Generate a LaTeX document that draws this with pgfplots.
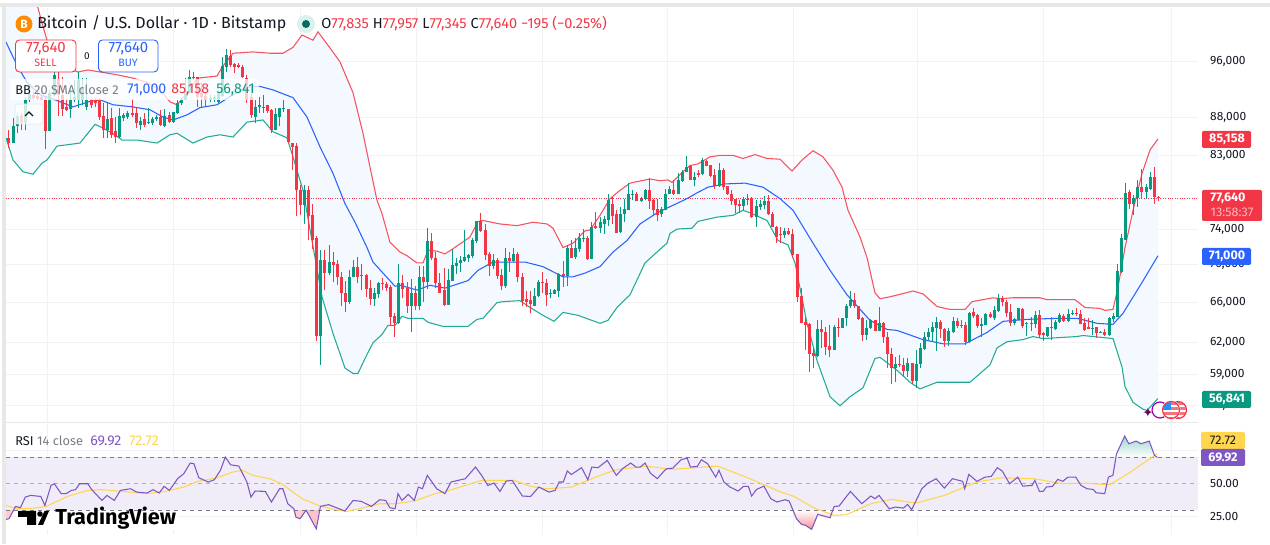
\documentclass[border=0pt]{standalone}
\usepackage{fontspec}
\usepackage{pgfplots}
\usepackage{pgfplotstable}
\pgfplotsset{compat=1.18}
\usepgfplotslibrary{fillbetween}
\setmainfont{Fira Sans}
\newfontfamily\djv{DejaVu Sans}
\definecolor{tvred}{HTML}{F23645}
\definecolor{tvgreen}{HTML}{089981}
\definecolor{tvblue}{HTML}{2962FF}
\definecolor{bbred}{HTML}{F7525F}
\definecolor{bbgreen}{HTML}{22AB94}
\definecolor{bbfill}{HTML}{F4F8FF}
\definecolor{gridc}{HTML}{F1F2F4}
\definecolor{rsip}{HTML}{7E57C2}
\definecolor{rsibg}{HTML}{F0ECF8}
\definecolor{rsiy}{HTML}{FFD64D}
\definecolor{sepc}{HTML}{E8E8E8}
\definecolor{dashc}{HTML}{787B86}
\definecolor{txt}{HTML}{131722}
\pgfplotstableread{
o h l c
85.8 86.6 85.0 85.3
85.3 86.3 84.0 84.6
84.6 88.0 84.6 86.9
86.9 88.7 85.9 88.3
88.4 88.7 86.3 87.3
87.3 90.9 86.3 90.5
90.4 92.6 90.2 91.3
91.2 91.6 90.5 90.8
91.0 91.9 90.5 90.6
90.9 92.2 90.4 90.5
90.5 90.9 83.8 86.2
86.2 91.9 86.2 91.5
91.2 94.5 91.1 94.1
93.5 94.5 88.3 91.2
91.2 93.7 88.3 89.2
89.5 90.5 89.0 89.1
89.2 92.3 88.0 90.4
90.4 93.3 90.2 90.9
90.5 94.5 89.4 93.3
90.5 93.6 89.7 92.2
89.5 93.6 89.1 90.5
90.4 90.6 89.4 89.7
90.4 90.8 89.5 90.0
90.5 90.8 87.7 88.1
88.2 90.1 85.3 86.4
86.4 90.1 85.3 87.8
88.0 89.4 85.3 85.7
86.2 88.1 84.6 85.4
85.4 89.4 85.3 88.3
88.0 88.7 87.5 88.4
88.1 89.0 87.8 88.7
88.7 90.6 88.1 88.4
88.7 89.5 86.6 87.3
87.0 88.1 86.4 87.6
87.8 88.7 86.7 87.0
87.3 89.4 87.1 87.4
87.3 88.1 87.0 87.8
87.8 88.4 87.6 88.1
88.1 89.1 86.9 87.0
86.9 89.2 86.7 88.3
88.4 88.8 87.3 87.4
87.4 88.8 87.3 88.8
88.7 90.5 88.5 90.1
90.1 90.8 89.8 90.5
90.5 93.6 90.5 91.6
91.5 94.8 91.5 93.8
93.7 94.5 93.3 93.8
93.8 93.8 89.5 90.9
91.5 93.0 89.4 90.9
91.0 91.5 89.5 90.5
90.5 91.2 90.2 90.8
90.6 91.2 90.2 90.9
90.2 91.9 90.1 91.3
91.0 96.7 90.9 95.4
95.2 98.0 94.5 97.0
96.9 97.8 95.2 95.5
95.7 95.9 94.4 95.2
95.5 95.9 95.1 95.2
95.2 95.5 93.6 93.7
93.6 94.1 90.1 90.5
90.9 92.3 88.0 88.4
88.1 90.5 87.3 89.5
89.5 90.9 88.7 89.7
89.4 91.2 88.7 89.5
89.7 89.8 88.7 89.0
89.1 89.2 86.0 86.3
86.4 89.4 86.3 88.5
88.1 89.4 86.9 89.4
89.2 90.5 88.8 89.4
89.2 89.2 84.6 84.7
84.6 84.6 81.1 84.1
84.2 84.6 75.5 78.6
78.6 79.3 75.6 76.8
76.8 79.3 74.6 78.6
78.6 79.1 72.8 75.5
75.6 76.9 71.7 72.8
73.0 73.2 62.2 62.7
62.7 71.6 59.9 70.5
70.5 71.6 67.3 69.1
69.1 72.2 68.9 70.3
70.3 71.4 68.1 70.0
70.1 70.5 67.8 68.7
68.7 69.2 65.7 67.0
67.0 68.3 65.0 66.1
66.1 69.4 65.9 68.7
68.7 70.5 68.7 69.8
69.8 70.9 68.0 68.7
68.8 70.1 67.3 68.9
68.9 69.0 66.6 67.4
67.5 68.4 65.8 66.4
66.4 67.5 65.6 67.0
66.9 68.2 66.5 68.0
68.0 68.6 67.3 67.9
67.9 68.2 67.2 67.5
67.6 67.8 63.7 64.5
64.6 64.9 62.6 63.9
63.9 70.1 63.8 68.0
68.0 68.9 66.5 67.4
67.5 68.1 64.9 65.7
65.7 68.5 63.0 67.0
67.0 67.7 65.2 65.6
65.6 69.9 65.2 68.7
68.7 69.9 66.1 68.2
68.2 74.1 67.4 72.7
72.7 73.6 70.5 70.7
70.8 71.4 67.5 68.0
68.0 69.1 67.0 67.0
67.3 69.7 65.6 65.8
65.8 69.5 65.8 68.4
68.3 71.7 68.3 70.0
69.9 70.7 69.0 70.2
70.2 71.0 69.2 70.5
70.4 73.9 70.3 70.9
70.8 71.2 70.3 71.1
71.0 73.0 70.8 72.8
72.7 74.9 72.4 74.9
74.9 75.9 73.7 73.8
73.9 74.6 70.5 71.1
71.2 71.4 68.8 69.9
69.9 71.2 69.5 70.5
70.5 70.8 68.5 68.8
68.9 69.5 67.3 67.7
67.7 71.8 67.5 70.8
70.8 71.4 69.2 70.4
70.4 71.9 70.3 71.2
71.2 71.4 68.1 68.7
68.7 69.1 65.6 66.2
66.4 67.2 65.5 66.1
66.3 67.2 64.9 65.9
65.7 67.5 65.7 66.7
66.7 68.4 66.6 68.2
68.2 69.2 67.0 68.0
68.0 68.5 65.6 66.8
66.9 67.4 66.5 67.0
66.9 67.4 66.9 67.3
67.2 69.1 66.6 69.0
69.0 70.4 67.6 68.8
68.8 72.2 67.7 71.9
71.9 72.8 70.7 70.8
70.9 73.0 70.6 71.9
71.7 73.5 71.4 73.0
72.9 74.0 72.5 73.0
73.0 73.2 70.5 70.6
70.6 74.8 70.6 74.3
74.4 76.0 74.0 74.1
74.1 75.4 73.5 74.8
74.6 75.5 73.4 75.2
75.1 78.2 74.4 77.4
77.0 77.8 74.6 75.5
75.8 76.2 73.6 73.6
73.7 76.6 73.6 75.8
75.7 77.6 74.8 76.3
76.2 79.5 76.2 78.2
78.1 78.7 77.4 78.2
78.2 78.4 77.3 77.3
77.3 77.8 77.2 77.6
77.6 78.8 77.4 78.6
78.6 80.1 76.4 77.3
77.4 77.6 75.6 76.2
76.3 77.6 74.9 75.6
75.7 76.6 75.4 76.3
76.2 78.8 76.2 78.2
78.1 79.1 78.1 78.8
78.7 79.9 78.0 78.2
78.2 80.7 78.2 79.9
79.8 81.1 79.6 80.9
80.9 82.9 80.9 81.5
81.6 81.7 79.9 79.9
79.9 80.9 79.1 80.2
80.7 81.1 80.2 80.5
80.6 82.6 80.5 82.4
82.3 82.4 81.6 81.6
81.7 81.7 80.2 80.4
80.5 81.2 78.8 79.2
79.1 82.0 79.0 81.1
81.1 81.4 78.7 79.0
79.1 79.2 78.0 78.1
78.1 78.6 76.8 77.3
77.5 77.6 75.9 76.8
76.9 77.4 75.9 76.7
76.7 77.8 76.2 77.6
77.5 78.1 76.8 77.6
77.6 77.8 75.3 75.4
75.4 77.4 74.2 76.7
76.6 77.4 76.2 76.9
76.8 77.9 76.4 77.3
77.3 78.0 75.6 75.7
75.8 76.0 74.2 74.3
74.3 74.4 72.4 73.1
73.4 74.2 72.4 73.3
73.3 74.1 73.0 73.8
73.8 74.1 73.3 73.4
73.4 74.0 70.7 71.1
71.2 71.2 66.1 66.6
66.7 67.5 63.9 63.9
64.0 64.5 61.3 63.7
63.8 63.9 59.2 60.9
61.0 61.5 59.6 60.7
60.7 64.2 60.6 63.3
63.3 64.2 61.5 63.0
63.0 63.5 60.8 61.6
61.7 63.7 60.6 61.3
61.3 63.7 61.3 63.5
63.5 64.4 62.6 63.4
63.4 64.4 63.4 64.4
64.4 65.9 63.6 65.7
65.6 67.2 65.4 66.3
66.3 67.0 65.4 65.7
65.6 65.7 64.2 64.3
64.4 64.5 62.2 62.8
62.8 64.2 62.3 63.4
63.4 64.3 63.3 64.2
64.2 64.2 63.1 63.1
63.1 65.5 63.1 63.9
63.9 64.0 62.0 62.6
62.6 63.0 59.6 60.9
60.9 61.5 58.1 59.6
59.6 60.6 58.3 60.0
60.0 60.8 59.7 59.9
59.9 60.5 58.8 59.3
59.3 60.5 58.8 60.1
60.1 60.1 58.1 58.4
58.4 61.3 57.8 60.0
60.0 62.0 59.6 61.5
61.4 63.0 61.3 62.6
62.6 63.4 62.3 63.0
63.0 64.0 62.1 63.5
63.4 64.5 61.2 64.0
64.0 64.2 62.5 63.3
63.3 63.4 61.6 62.2
62.2 63.4 61.7 63.1
63.0 64.5 62.9 64.1
64.1 64.4 63.4 63.6
63.7 64.2 63.4 63.6
63.7 64.0 61.8 62.1
62.1 65.0 62.0 64.9
65.0 65.4 64.4 64.6
64.7 64.8 63.4 63.6
63.6 64.4 62.6 63.8
63.7 64.9 63.7 64.8
64.8 65.0 64.4 64.5
64.4 65.7 64.2 65.2
65.1 66.9 65.0 66.5
66.5 66.7 65.7 66.1
66.1 66.3 64.5 64.9
65.0 65.9 63.6 63.9
63.9 64.4 63.7 64.3
64.2 65.4 64.2 65.4
65.3 65.4 63.4 63.6
63.8 64.0 62.7 63.9
63.8 64.5 63.1 63.9
63.8 65.1 63.4 64.7
64.7 65.2 62.5 62.8
62.9 63.0 62.2 62.8
62.7 63.5 62.6 63.5
63.5 64.5 62.3 63.4
63.3 64.2 63.2 64.0
64.0 64.9 63.9 64.7
64.6 64.8 64.0 64.1
64.1 65.3 64.0 64.8
64.8 65.2 64.7 64.95
64.95 65.4 64.6 64.85
64.8 65.2 63.8 63.8
63.9 64.4 63.1 63.2
63.5 64.4 63.3 63.3
63.35 64.2 62.8 63.45
63.5 63.5 62.5 62.9
62.95 63.1 62.9 63.05
63.0 63.3 62.7 62.8
62.8 64.5 62.7 64.4
64.3 64.9 64.0 64.6
64.5 70.1 64.5 69.3
69.2 73.4 69.1 73.0
72.8 79.5 72.8 78.3
78.4 78.7 76.4 76.9
76.9 78.0 75.6 77.7
77.7 79.9 76.6 79.0
79.0 81.2 77.6 78.4
78.4 79.4 77.5 79.0
78.8 80.9 78.6 80.2
80.2 81.5 77.0 77.8
77.835 77.957 77.345 77.64
}\candles
\pgfplotstableread{
x p
6 115
30 107
38 104.4
42 102.0
47 99.3
55 97.0
67 95.1
78 94.5
88 94.8
100 94.5
117 94.1
133 93.6
147 93.0
160 91.9
170 90.2
177 89.8
190 91.9
197 93.6
217 93.9
222 95.2
233 97.3
253 97.5
270 97.3
283 97.3
293 98.2
302 100.1
313 99.3
318 100.6
330 98.1
340 96.0
353 91.5
363 85.9
370 81.5
377 77.4
382 75.8
390 72.5
400 71.4
407 71.0
417 70.2
423 70.2
428 71.6
437 71.5
445 71.2
452 71.7
470 73.1
478 74.9
483 75.0
500 74.6
517 74.4
533 74.8
547 74.6
553 74.1
563 71.9
573 72.4
585 73.8
590 73.9
593 74.4
600 75.6
610 77.6
620 78.6
630 79.5
650 80.0
660 79.8
668 79.9
672 79.6
683 80.9
690 81.7
698 81.9
710 82.8
720 83.0
733 83.0
743 82.6
755 83.1
767 82.6
780 82.5
792 81.0
802 82.4
813 83.6
823 82.8
833 81.1
842 79.0
848 76.2
860 73.1
867 70.8
875 67.0
880 66.4
890 66.6
913 67.2
923 66.9
937 65.6
950 65.3
965 65.3
972 66.1
993 66.5
1000 66.4
1013 66.5
1040 66.5
1047 66.3
1075 66.3
1085 65.5
1100 65.4
1105 65.2
1113 65.3
1118 67.6
1125 71.9
1133 76.2
1142 80.7
1150 83.7
1158 85.158
}\bbupper
\pgfplotstableread{
x p
6 99.0
17 95.5
27 93.0
40 91.2
55 90.5
73 89.5
88 90.2
100 90.5
113 89.8
133 89.5
150 89.1
163 88.1
173 87.7
187 88.4
200 89.4
217 89.8
233 91.2
247 92.3
260 92.4
273 91.9
293 90.8
307 88.1
320 84.1
333 80.7
345 77.0
355 74.8
367 71.9
373 70.3
383 69.1
395 67.7
400 67.8
417 67.3
430 67.8
445 67.5
468 68.3
478 69.4
493 70.3
510 70.3
525 70.3
543 69.8
563 68.7
573 68.7
585 69.1
600 69.8
613 71.4
627 72.7
640 74.6
657 75.9
673 76.8
687 77.6
697 78.3
708 79.0
725 79.4
745 79.5
763 79.0
780 77.6
793 76.2
813 72.4
830 69.4
847 66.8
870 64.2
887 63.3
897 63.2
923 62.3
943 61.9
965 61.9
987 63.0
1003 64.1
1027 64.3
1057 64.4
1077 64.4
1097 63.9
1113 63.8
1123 64.9
1142 68.1
1158 71.0
}\bbmid
\pgfplotstableread{
x p
6 85.3
13 82.4
23 80.9
33 80.6
42 82.0
47 82.4
57 84.2
80 84.6
95 87.1
103 86.6
115 85.7
122 85.0
137 85.0
157 84.6
170 85.7
177 85.9
193 84.6
207 85.4
220 85.7
233 85.4
247 87.4
263 87.7
273 86.1
287 85.3
293 82.8
303 78.6
315 70.8
322 66.6
333 62.9
345 59.6
353 59.1
358 59.1
365 60.5
373 62.0
382 62.8
388 63.7
395 63.7
402 64.6
408 64.4
423 64.4
428 64.0
443 63.6
468 63.6
477 64.3
483 64.4
497 66.0
503 66.1
520 66.2
530 65.5
543 64.7
554 64.1
563 65.0
578 64.7
600 63.9
608 64.2
617 65.5
630 66.8
645 70.2
657 71.4
667 72.4
670 73.5
677 74.0
692 74.1
698 74.9
717 75.4
733 75.6
743 76.2
750 75.9
767 75.0
778 72.7
788 72.2
795 70.2
807 63.9
817 60.3
830 57.0
840 56.2
850 57.0
863 57.8
875 60.5
880 60.6
897 59.4
910 58.3
920 57.7
937 58.3
970 58.3
990 59.9
997 61.5
1007 62.1
1023 62.3
1033 62.6
1043 62.4
1077 62.6
1083 62.7
1113 62.4
1122 59.7
1125 57.9
1133 56.5
1143 55.9
1147 55.8
1158 56.841
}\bblower
\pgfplotstableread{
x r
6.1 23.1
9.0 23.6
15.5 32.9
20.4 31.9
25.3 39.9
30.6 41.2
40.8 40.4
44.9 33.6
51.0 48.7
54.3 50
61.2 42.5
66.1 42.5
71.4 45
75.5 45.5
79.6 50
87.8 50
91.8 45.5
102 37.4
106.9 41.2
114.3 37.4
120.4 45
130.6 46.2
136.7 43.7
146.9 43
153.1 45.5
159.2 43
164.1 48
169.4 45
177.6 53.8
183.7 57.5
190.2 65.6
193.9 65.1
198.8 54.5
208.2 51.3
214.3 53
220.4 60.1
225.3 70.1
230.6 64.3
238.8 63.3
246.9 51.3
251 39.9
255.1 44.5
265.3 44.2
271.4 36.2
279.6 46.2
282.9 46.2
287.8 34.9
293.9 31.1
295.9 24.8
300 23.6
306.1 30
316.3 16.0
320.4 32.9
328.6 34.2
334.7 32.4
344.9 29.4
353.1 37.4
361.2 36.7
371.4 32.9
379.6 37.9
385.7 37.4
389.8 31.9
395.1 31.1
398 42.5
402 37.4
408.2 41.9
414.3 37.4
418.4 47.5
422.4 46.2
427.3 56.3
436.7 46.2
444.9 42.5
451 51.3
465.3 53.8
475.5 62.6
481.6 56.3
487.8 48.7
493.9 50.5
500 44.2
506.1 52
512.2 52.5
522.4 40.7
530.6 40.4
538.8 47.5
549 43.7
555.1 45
559.2 51.3
563.3 51.3
567.3 59.6
571.4 57
581.6 62.1
587.8 53
591.8 62.6
598 62.1
607.3 67.6
616.3 56.3
622.4 61.3
630.6 65.6
636.1 62.6
640.2 62.6
645.1 65.6
650.4 58
657.3 53.8
664.7 60.1
666.7 61.3
672.9 61.8
681 68.1
687.1 69.4
690.4 62.6
697.3 63.1
701.4 68.1
707.6 65.1
715.7 55
719 60.1
723.9 51.3
730 47.5
738.2 44.5
743.5 48
748.4 48
751.6 40.7
756.5 45.7
763.9 48.2
770.8 38.7
776.9 36.2
785.1 37.9
789.2 36.9
796.5 23.6
801.4 19.3
805.5 18.6
811.6 15.5
817.8 26.9
823.9 25.6
830 24.3
834.1 32.9
839 33.1
850.4 44.2
861.8 34.9
870.8 40.7
874.9 38.7
879 41.2
889.2 31.1
895.3 32.4
903.5 31.6
907.6 34.4
911.6 30.4
921.8 46.2
928 50.5
936.1 53.8
944.3 46.7
952.4 53.8
962.7 51.8
964.7 46.2
968.8 57
976.9 51.8
985.1 55
991.2 55.5
997.3 62.1
1002.2 59.6
1009.6 50
1017.8 55
1022.7 48.2
1032 48.7
1034.9 52.5
1039.4 44.2
1043.1 44.2
1046.3 47.5
1052.4 48
1057.8 53.3
1062.7 51.8
1068 55
1075.7 55
1081 48.7
1087.1 46.2
1093.3 45.7
1096.1 43.2
1104.7 42.5
1108.4 55
1112.9 56.3
1116.5 72.6
1124.7 86
1128.8 80.2
1136.1 82.2
1141 80.2
1149.2 82.2
1154.5 71.4
1157.3 69.92
}\rsi
\pgfplotstableread{
x r
6.1 33.6
16.3 31.1
34.7 31.6
46.9 33.1
67.3 40.4
87.8 45
102 45.5
122.4 44.2
146.9 42.5
165.3 44.2
183.7 47.5
198 51.8
216.3 54.3
232.7 58.8
242.9 60.1
253.1 56.3
269.4 53.8
281.6 50
302 38.7
318.4 33.6
334.7 30.4
346.9 29.1
359.2 31.1
379.6 34.9
395.9 34.9
416.3 37.4
432.7 41.9
449 45
465.3 48.7
481.6 52.5
514.3 52.5
530.6 48
546.9 46.2
571.4 47.5
600 56.3
616.3 60.6
640 62.6
646.3 63.3
670.8 60.8
695.3 62.1
717.8 63.3
744.3 55.5
781 43.7
793.3 40.7
813.7 31.9
834.1 26.1
846.3 26.6
870.8 34.9
891.2 38.2
915.7 35.4
944.3 41.2
976.9 51.3
1001.4 54.5
1034.1 53.8
1062.7 50
1083 50.5
1109.6 49.2
1127.9 57.5
1157.3 72.72
}\rsima
\pgfplotsset{tvaxis/.style={
  scale only axis, width=894pt, xmin=6, xmax=1198,
  xtick={47,173,300,416,542,667,793,917,1043,1171}, xticklabels={},
  major tick length=0pt, axis line style={draw=none},
  grid=major, major grid style={gridc,line width=0.75pt},
  yticklabel pos=right, axis on top=false, clip=true,
  tick label style={font=\fontsize{9}{10}\selectfont,text=txt},
  yticklabel style={xshift=5.6pt,anchor=west},
}}
\begin{document}
\begin{tikzpicture}
\path (0,0) rectangle (952.5pt,408pt);
\begin{axis}[tvaxis, at={(4.5pt,91.5pt)}, anchor=south west, height=310.5pt,
  ymode=log, ymin=54.8, ymax=104.4,
  ytick={96,88,83,74,70,66,62,59,56.2},
  yticklabels={{96,000},{88,000},{83,000},{74,000},{70,000},{66,000},{62,000},{59,000},{56,200}},
  ]
\addplot[name path=u,bbred,line width=0.8pt] table[x=x,y=p]{\bbupper};
\addplot[name path=l,bbgreen,line width=0.8pt] table[x=x,y=p]{\bblower};
\addplot[bbfill] fill between[of=u and l];
\addplot[tvred,densely dotted,line width=0.8pt,forget plot] coordinates{(6,77.64)(1198,77.64)};
\addplot[tvblue,line width=0.8pt] table[x=x,y=p]{\bbmid};
% wicks
\addplot[draw=none,mark=none,forget plot,error bars/.cd,y dir=plus,y explicit,error mark=none,error bar style={tvgreen,line width=0.75pt}]
 table[x expr={\thisrow{c}<\thisrow{o}?nan:4.8+\coordindex*4.105},y=l,y error plus expr=\thisrow{h}-\thisrow{l}]{\candles};
\addplot[draw=none,mark=none,forget plot,error bars/.cd,y dir=plus,y explicit,error mark=none,error bar style={tvred,line width=0.75pt}]
 table[x expr={\thisrow{c}<\thisrow{o}?4.8+\coordindex*4.105:nan},y=l,y error plus expr=\thisrow{h}-\thisrow{l}]{\candles};
% bodies
\addplot[draw=none,mark=none,forget plot,error bars/.cd,y dir=plus,y explicit,error mark=none,error bar style={tvgreen,line width=2.25pt}]
 table[x expr={\thisrow{c}<\thisrow{o}?nan:4.8+\coordindex*4.105},y=o,y error plus expr=\thisrow{c}-\thisrow{o}]{\candles};
\addplot[draw=none,mark=none,forget plot,error bars/.cd,y dir=plus,y explicit,error mark=none,error bar style={tvred,line width=2.25pt}]
 table[x expr={\thisrow{c}<\thisrow{o}?4.8+\coordindex*4.105:nan},y=c,y error plus expr=\thisrow{o}-\thisrow{c}]{\candles};
\end{axis}
\begin{axis}[tvaxis, at={(4.5pt,6.75pt)}, anchor=south west, height=83.25pt,
  ymin=11.3, ymax=95.1,
  ytick={25,50,75}, yticklabels={25.00,50.00,{}},
  ]
\fill[rsibg] (axis cs:6,30) rectangle (axis cs:1198,70);
\addplot[draw=none,shade,top color=tvgreen!40,bottom color=white,forget plot] coordinates{(1116,70)(1116.5,72.6)(1124.7,86)(1128.8,80.2)(1136.1,82.2)(1141,80.2)(1149.2,82.2)(1154.5,71.4)(1155,70)} --cycle;
\addplot[draw=none,shade,top color=white,bottom color=tvred!55,forget plot] coordinates{(792,30)(796.5,23.6)(801.4,19.3)(805.5,18.6)(811.6,15.5)(817.8,26.9)(823.9,25.6)(830,24.3)(832,30)} --cycle;
\addplot[draw=none,fill=tvred!25,forget plot] coordinates{(6,30)(6.1,23.1)(9,23.6)(13,30)} --cycle;
\addplot[draw=none,fill=tvred!25,forget plot] coordinates{(293,30)(295.9,24.8)(300,23.6)(306.1,30)} --cycle;
\addplot[draw=none,fill=tvred!30,forget plot] coordinates{(307,30)(316.3,16)(319,30)} --cycle;
\addplot[dashc,dashed,line width=0.7pt,forget plot] coordinates{(6,70)(1198,70)};
\addplot[dashc!60,dashed,line width=0.7pt,forget plot] coordinates{(6,50)(1198,50)};
\addplot[dashc,dashed,line width=0.7pt,forget plot] coordinates{(6,30)(1198,30)};
\addplot[rsiy,line width=0.8pt] table[x=x,y=r]{\rsima};
\addplot[rsip,line width=0.8pt] table[x=x,y=r]{\rsi};
\end{axis}
\begin{scope}[x=0.75pt,y=-0.75pt,shift={(0,408pt)}]
\def\f#1{\fontsize{#1}{#1}\selectfont}
% frame
\fill[sepc] (0,3) rectangle (1270,7);
\fill[sepc] (2,3) rectangle (6,544);
\fill[sepc] (6,422) rectangle (1198,423.5);
% legend backdrops
\fill[white,opacity=0.75] (10,79) rectangle (259,100);
\fill[white,opacity=0.8,rounded corners=2pt] (15,104) rectangle (43,124);
\draw[sepc,rounded corners=2pt,line width=0.6pt] (15,104) rectangle (43,124);
\draw[txt,line width=0.9pt] (25,116)--(29,112)--(33,116);
% title
\fill[orange!90!yellow] (24,24) circle (8.5);
\node[white,font=\bfseries\f{9}] at (24,24) {B};
\node[anchor=west,inner sep=0,txt,font=\f{12}] at (37,24) {Bitcoin / U.S. Dollar · 1D · Bitstamp};
\fill[tvgreen!15] (306,24) circle (9);
\fill[black!30!tvgreen] (306,24) circle (4);
\node[anchor=west,inner sep=0,font=\f{10.9}] at (321,24) {\textcolor{txt}{O}\textcolor{tvred}{77,835} \textcolor{txt}{H}\textcolor{tvred}{77,957} \textcolor{txt}{L}\textcolor{tvred}{77,345} \textcolor{txt}{C}\textcolor{tvred}{77,640} \textcolor{tvred}{−195 (−0.25\%)}};
% buy sell
\draw[tvred,fill=white,rounded corners=3pt,line width=0.7pt] (15.5,40) rectangle (76,72);
\node[tvred,font=\f{11.2}] at (46,49) {77,640};
\node[tvred,font=\f{8}] at (45.5,63) {SELL};
\node[txt,font=\f{7.5}] at (87,56) {0};
\draw[tvblue,fill=white,rounded corners=3pt,line width=0.7pt] (98.5,40) rectangle (158,72);
\node[tvblue,font=\f{11.2}] at (128.5,49) {77,640};
\node[tvblue,font=\f{8}] at (128,63) {BUY};
\node[anchor=west,inner sep=0,font=\f{9.6}] at (15,90) {\textcolor{txt}{BB} \textcolor{dashc}{20 SMA close 2}};
\node[anchor=west,inner sep=0,font=\f{10.6}] at (127,90) {\textcolor{tvblue}{71,000}};
\node[anchor=west,inner sep=0,font=\f{10.6}] at (171,90) {\textcolor{tvred}{85,158}};
\node[anchor=west,inner sep=0,font=\f{10.6}] at (216,90) {\textcolor{tvgreen}{56,841}};
\node[anchor=west,inner sep=0,font=\f{9.6}] at (15,441) {\textcolor{txt}{RSI} \textcolor{dashc}{14 close}};
\node[anchor=west,inner sep=0,font=\f{10.6}] at (90,441) {\textcolor{rsip}{69.92}};
\node[anchor=west,inner sep=0,font=\f{10.6}] at (129,441) {\textcolor{rsiy}{72.72}};
% price labels
\def\lab#1#2#3#4{\fill[#1,rounded corners=1pt] (1202,#2) rectangle (#3,#2+17);\node[white,font=\bfseries\f{9.4}] at (1227,#2+8.5) {#4};}
\lab{tvred}{131}{1251}{85,158}
\fill[tvred,rounded corners=1pt] (1202,190) rectangle (1262,221);
\node[white,font=\bfseries\f{9.4}] at (1228,198) {77,640};
\node[white,opacity=0.65,font=\f{9.4}] at (1232,212) {13:58:37};
\lab{tvblue}{248}{1251}{71,000}
\lab{tvgreen}{391}{1251}{56,841}
\fill[rsiy,rounded corners=1pt] (1201,432) rectangle (1245,449);
\node[txt,font=\f{9.4}] at (1223,440.5) {72.72};
\fill[rsip,rounded corners=1pt] (1201,449) rectangle (1245,466);
\node[white,font=\bfseries\f{9.4}] at (1223,457.5) {69.92};
% event icons
\draw[violet!70!magenta,line width=0.9pt] (1160,410) circle (8);
\node[black!15!violet,font=\djv\f{10}] at (1148,413) {✦};
\foreach \cx in {1178,1171}{
 \fill[white] (\cx,410) circle (9.5);
 \begin{scope}
 \clip (\cx,410) circle (8);
 \fill[tvred!70] (\cx-8,402) rectangle (\cx+8,418);
 \fill[white] (\cx-8,405) rectangle (\cx+8,407.5);
 \fill[white] (\cx-8,410) rectangle (\cx+8,412.5);
 \fill[white] (\cx-8,415) rectangle (\cx+8,417);
 \fill[tvblue!70!cyan] (\cx-8,402) rectangle (\cx,410);
 \end{scope}
 \draw[tvred,line width=0.9pt] (\cx,410) circle (8.5);
}
% logo
\fill[white] (17,511.5) rectangle (178,530);
\fill[black] (18,511) -- (36,511) -- (36,525) -- (27,525) -- (27,517) -- (18,517) -- cycle;
\fill[black] (40,514) circle (2.8);
\fill[black] (38,525) -- (44.5,511) -- (49,511) -- (43,525) -- cycle;
\node[anchor=west,inner sep=0,black,font=\bfseries\f{16.2}] at (55,518.5) {TradingView};
\end{scope}
\end{tikzpicture}
\end{document}
